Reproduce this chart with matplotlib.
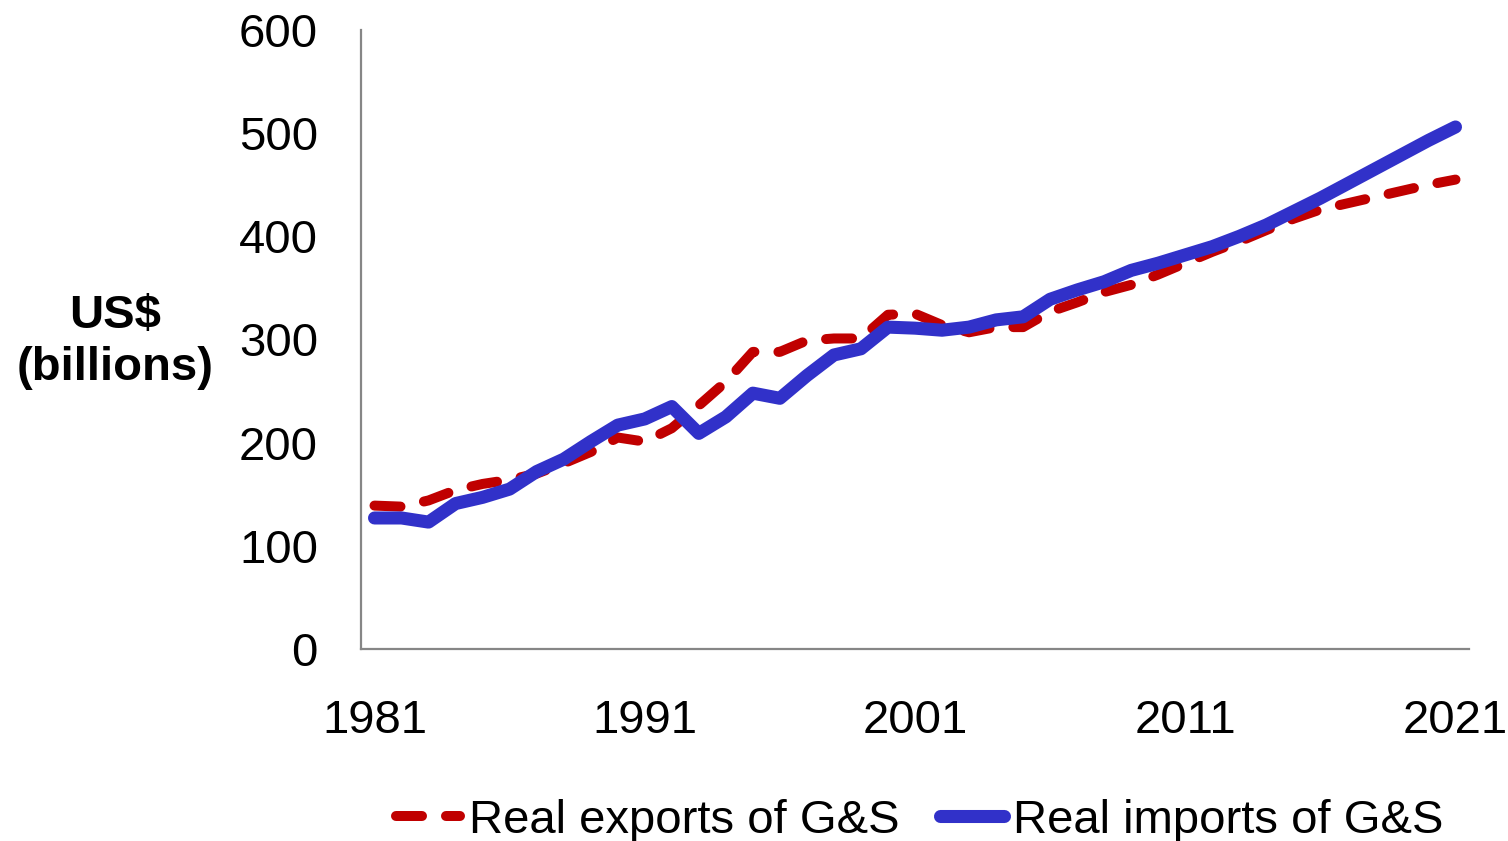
import matplotlib
matplotlib.use('Agg')
import matplotlib.pyplot as plt
import numpy as np

plt.rcParams['font.family'] = ['Liberation Sans', 'DejaVu Sans']

# ── data (US$ billions) ─────────────────────────────────────────────────────
years = list(range(1981, 2022))
exports = [139, 138, 144, 154, 160, 164, 170, 180, 191, 205, 201, 214, 236, 259, 288,
           288, 299, 301, 301, 324, 325, 314, 307, 312, 312, 327, 336, 346, 353, 363,
           374, 385, 395, 406, 417, 426, 432, 438, 444, 450, 455]
imports = [127, 127, 123, 141, 147, 155, 172, 184, 201, 217, 223, 235, 209, 225, 248,
           243, 265, 285, 291, 312, 311, 309, 312, 319, 322, 339, 348, 356, 367, 374,
           382, 390, 400, 411, 424, 437, 451, 465, 479, 493, 506]
series_labels = ['Real exports of G&S', 'Real imports of G&S']
y_ticks = [0, 100, 200, 300, 400, 500, 600]
x_ticks = [1981, 1991, 2001, 2011, 2021]

FS = 34
RED = '#C00000'
BLUE = '#3131C9'
SPINE = '#868686'

fig = plt.figure(figsize=(15.08, 8.41), dpi=100)
ax = fig.add_axes([361 / 1508, 1 - 649 / 841, (1469 - 361) / 1508, (649 - 30) / 841])

ax.plot(years, exports, color=RED, lw=7.2, dashes=(2.6, 2.4),
        dash_capstyle='round', solid_capstyle='round', label=series_labels[0], zorder=2)
ax.plot(years, imports, color=BLUE, lw=9.4, solid_capstyle='round',
        solid_joinstyle='round', label=series_labels[1], zorder=3)

ax.set_xlim(1980.5, 2021.5)
ax.set_ylim(0, 600)
ax.set_yticks(y_ticks)
ax.set_xticks(x_ticks)
ax.tick_params(axis='y', length=0, pad=31, labelsize=FS)
ax.tick_params(axis='x', length=0, pad=36, labelsize=FS)

for side in ('top', 'right'):
    ax.spines[side].set_visible(False)
for side in ('left', 'bottom'):
    ax.spines[side].set_color(SPINE)
    ax.spines[side].set_linewidth(1.6)

fig.text(115 / 1508, 1 - 342 / 841, 'US$\n(billions)', ha='center', va='center',
         fontsize=FS, fontweight='bold', linespacing=1.25)

fig.legend(loc='center', bbox_to_anchor=(920 / 1508, 1 - 821 / 841), ncol=2,
           frameon=False, fontsize=FS, handlelength=1.35, handletextpad=0.2,
           columnspacing=0.85, borderaxespad=0)

fig.savefig('out.png', dpi=100)
